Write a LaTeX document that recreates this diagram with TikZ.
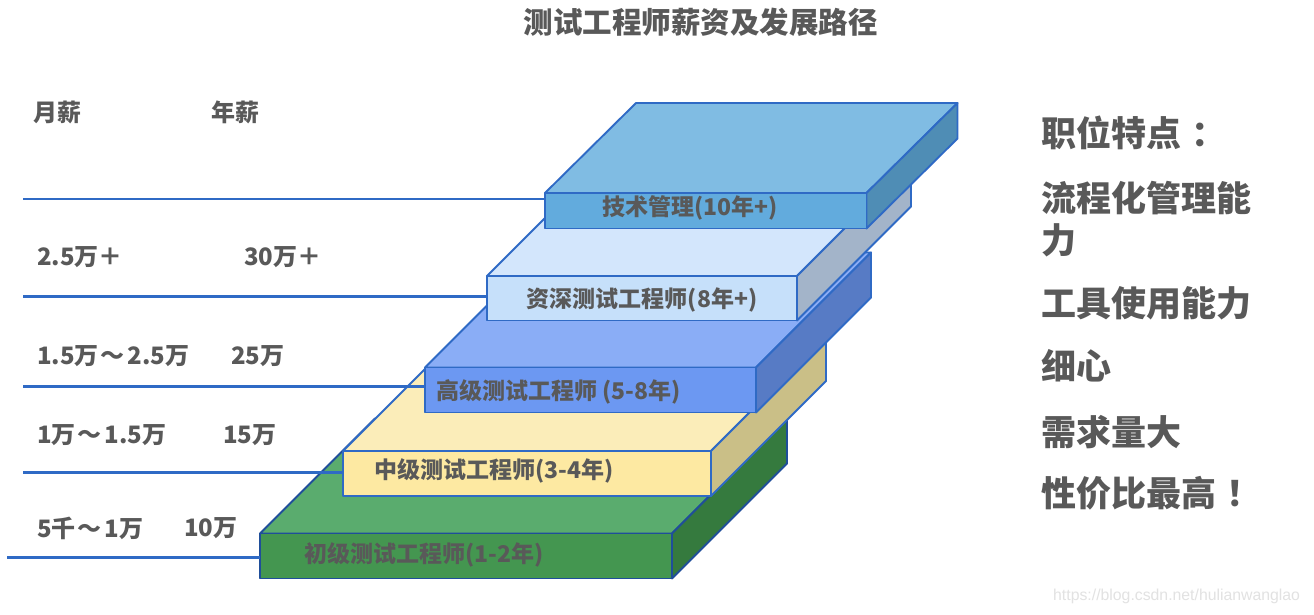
\documentclass[tikz,border=0pt]{standalone}
\usepackage{fontspec}
\setmainfont{Noto Sans CJK SC}
\newfontfamily\wmfont{Liberation Sans}
\usetikzlibrary{calc}
\definecolor{edgeblue}{HTML}{2F6AC5}
\definecolor{greenedge}{HTML}{1F4E9A}
\definecolor{txtgray}{HTML}{595959}
\definecolor{wmgray}{HTML}{E2E2E2}
\definecolor{techtop}{HTML}{80BCE3}
\definecolor{techfront}{HTML}{62ABDD}
\definecolor{techside}{HTML}{4F8DB5}
\definecolor{senitop}{HTML}{D3E6FC}
\definecolor{senifront}{HTML}{C6E0FA}
\definecolor{seniside}{HTML}{A3B4C9}
\definecolor{hightop}{HTML}{8AADF6}
\definecolor{highfront}{HTML}{6C98F2}
\definecolor{highside}{HTML}{577BC5}
\definecolor{midtop}{HTML}{FBEDB9}
\definecolor{midfront}{HTML}{FDE9A2}
\definecolor{midside}{HTML}{CABF87}
\definecolor{jrtop}{HTML}{5AAC6E}
\definecolor{jrfront}{HTML}{449650}
\definecolor{jrside}{HTML}{357A3E}
\tikzset{
  slabfront/.style={line width=1.9pt, anchor=north west, inner sep=0pt, outer sep=0pt, line join=round},
  slabface/.style={line width=1.9pt, line join=round},
  link/.style={draw=edgeblue, line width=2.1pt},
  txt/.style={text=txtgray, inner sep=0pt},
  slabtxt/.style={txt, font=\fontsize{23pt}{23pt}\selectfont\bfseries},
  saltxt/.style={txt, anchor=west, font=\fontsize{24pt}{24pt}\selectfont\bfseries},
  feattxt/.style={txt, anchor=west, font=\fontsize{35pt}{35pt}\selectfont\bfseries},
  titletxt/.style={txt, font=\fontsize{29.5pt}{29.5pt}\selectfont\bfseries},
}
\newcommand\tld{\kern1.5pt～\kern3.5pt}
% #1 name, #2 x, #3 y, #4 width, #5 height, #6 dx, #7 dy, #8 colour prefix, #9 edge colour
\newcommand\myslab[9]{%
  \coordinate (#1nw) at (#2,#3);
  \coordinate (#1ne) at ($(#1nw)+(#4,0)$);
  \coordinate (#1se) at ($(#1ne)+(0,#5)$);
  \filldraw[slabface, draw=#9, fill=#8top] (#1nw) -- ++(#6,#7) -- ($(#1ne)+(#6,#7)$) -- (#1ne) -- cycle;
  \filldraw[slabface, draw=#9, fill=#8side] (#1ne) -- ($(#1ne)+(#6,#7)$) -- ($(#1se)+(#6,#7)$) -- (#1se) -- cycle;
  \node[slabfront, draw=#9, fill=#8front, minimum width=#4pt, minimum height=#5pt] (#1) at (#1nw) {};
}
\begin{document}
\begin{tikzpicture}[x=1pt,y=-1pt]
\useasboundingbox (0,0) rectangle (1314,614);
\fill[white] (0,0) rectangle (1314,614);

\node[titletxt] (title) at (700.5,22) {测试工程师薪资及发展路径};

% slabs, bottom to top
\myslab{s1}{260}{533.5}{412}{45}{115}{-115}{jr}{greenedge}
\myslab{s2}{343}{451}{368}{45}{115}{-115}{mid}{edgeblue}
\myslab{s3}{425}{367.5}{331}{45}{115}{-115}{high}{edgeblue}
\myslab{s4}{487}{276}{310}{44.5}{114}{-114}{seni}{edgeblue}
\myslab{s5}{545}{193}{321.5}{35.5}{91}{-90}{tech}{edgeblue}

% connector lines
\coordinate (l5) at (23,199);
\coordinate (l4) at (23,296.5);
\coordinate (l3) at (23,386.5);
\coordinate (l2) at (23,472.5);
\coordinate (l1) at (7,557.5);
\draw[link] (l5) -- (l5 -| s5.west);
\draw[link] (l4) -- (l4 -| s4.west);
\draw[link] (l3) -- (l3 -| s3.west);
\draw[link] (l2) -- (l2 -| s2.west);
\draw[link] (l1) -- (l1 -| s1.west);

% slab texts
\node[slabtxt] (t5) at (690,208) {技术管理(10年+)};
\node[slabtxt] (t4) at (642,300) {资深测试工程师(8年+)};
\node[slabtxt, anchor=west] (t3) at (436,392) {高级测试工程师 (5-8年)};
\node[slabtxt, anchor=west] (t2) at (374,471) {中级测试工程师(3-4年)};
\node[slabtxt, anchor=west] (t1) at (304,555) {初级测试工程师(1-2年)};

% salary labels
\node[saltxt] (hm) at (33,112) {月薪};
\node[saltxt] (hy) at (211,112) {年薪};
\node[saltxt] (m5) at (37,257) {2.5万＋};
\node[saltxt] (y5) at (244,257) {30万＋};
\node[saltxt] (m4) at (37,356) {1.5万\tld 2.5万};
\node[saltxt] (y4) at (231,356) {25万};
\node[saltxt] (m3) at (37,435) {1万\tld 1.5万};
\node[saltxt] (y3) at (223,435) {15万};
\node[saltxt] (m2) at (37,528) {5千\tld 1万};
\node[saltxt] (y2) at (184,528) {10万};

% features
\node[feattxt] (f1) at (1041,133) {职位特点\kern10pt：};
\node[feattxt] (f2) at (1041,198) {流程化管理能};
\node[feattxt] (f3) at (1041,240) {力};
\node[feattxt] (f4) at (1041,303) {工具使用能力};
\node[feattxt] (f5) at (1041,366) {细心};
\node[feattxt] (f6) at (1041,432) {需求量大};
\node[feattxt] (f7) at (1041,493) {性价比最高\kern10pt！};

\node[text=wmgray, anchor=west, inner sep=0pt, font=\wmfont\fontsize{15.8pt}{15.8pt}\selectfont] (wm) at (1053,596) {https://blog.csdn.net/hulianwanglao};
\end{tikzpicture}
\end{document}
